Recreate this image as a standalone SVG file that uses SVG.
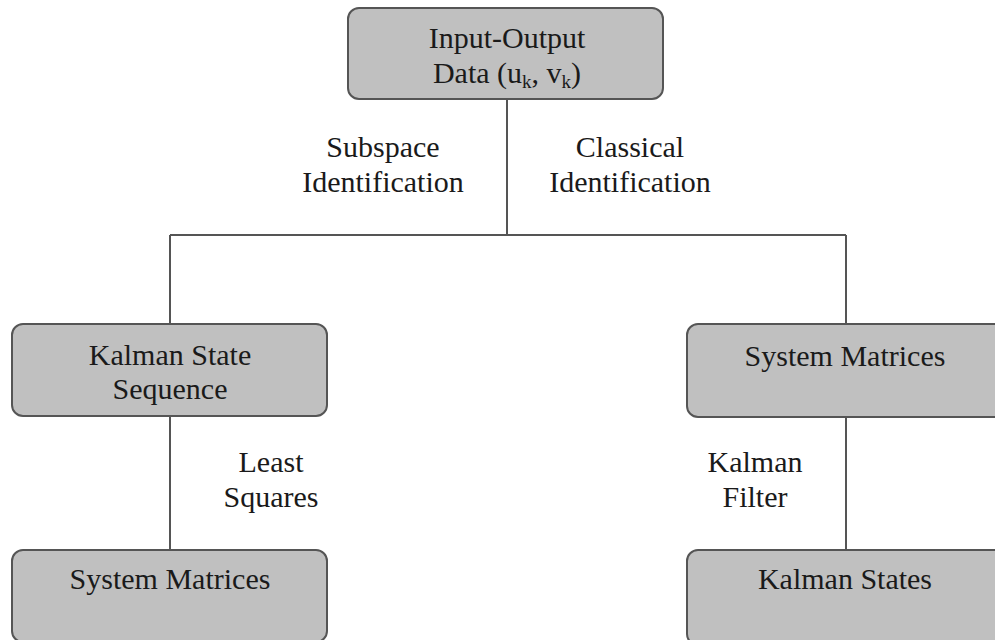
<svg xmlns="http://www.w3.org/2000/svg" width="995" height="640" viewBox="0 0 995 640">
<style>
.box{fill:#c0c0c0;stroke:#555;stroke-width:2}
.ln{stroke:#555;stroke-width:2;fill:none}
text{font-size:30px;fill:#1a1a1a;text-anchor:middle}
.sub{font-size:19px}
</style>
<rect width="995" height="640" fill="#fff"/>
<g font-family="'Liberation Serif', 'DejaVu Serif', serif">
<g id="connectors">
<path class="ln" d="M507,99 V235 M170,235 H846 M170,235 V324 M846,235 V324 M170,416 V550 M846,417 V550"/>
</g>
<g id="labels">
<text x="383" y="157">Subspace</text>
<text x="383" y="192">Identification</text>
<text x="630" y="157">Classical</text>
<text x="630" y="192">Identification</text>
<text x="271" y="472">Least</text>
<text x="271" y="507">Squares</text>
<text x="755" y="472">Kalman</text>
<text x="755" y="507">Filter</text>
</g>
<g id="input-output">
<rect class="box" x="348" y="8" width="315" height="91" rx="11"/>
<text x="507" y="48">Input-Output</text>
<text x="507" y="83">Data (u<tspan class="sub" dy="5">k</tspan><tspan dy="-5">, v</tspan><tspan class="sub" dy="5">k</tspan><tspan dy="-5">)</tspan></text>
</g>
<g id="kalman-state-sequence">
<rect class="box" x="12" y="324" width="315" height="92" rx="11"/>
<text x="170" y="365">Kalman State</text>
<text x="170" y="399">Sequence</text>
</g>
<g id="system-matrices-right">
<rect class="box" x="687" y="324" width="320" height="93" rx="11"/>
<text x="845" y="366">System Matrices</text>
</g>
<g id="system-matrices-left">
<rect class="box" x="12" y="550" width="315" height="92" rx="11"/>
<text x="170" y="589">System Matrices</text>
</g>
<g id="kalman-states">
<rect class="box" x="687" y="550" width="320" height="95" rx="11"/>
<text x="845" y="589">Kalman States</text>
</g>
</g>
</svg>
